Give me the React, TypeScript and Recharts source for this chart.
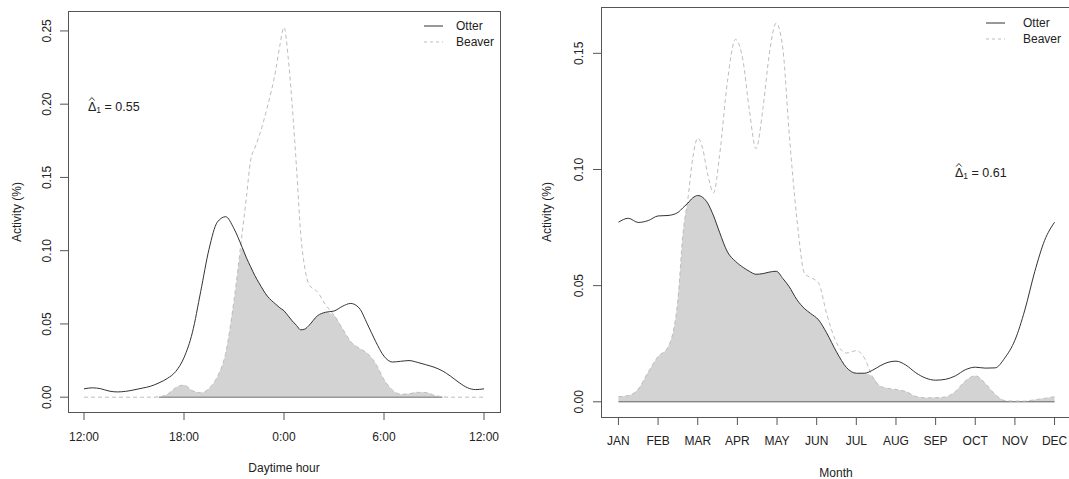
import React from "react";
import { ComposedChart, Line, Area, XAxis, YAxis, ReferenceLine } from "recharts";

// ---------- Left panel: daily activity ----------
const hours = [
  0, 0.5, 1, 1.5, 2, 2.5, 3, 3.5, 4, 4.5,
  5, 5.5, 6, 6.5, 7, 7.5, 8, 8.5, 9, 9.5,
  9.75, 10, 10.25, 10.5, 11, 11.5, 11.75, 12, 12.25, 12.5,
  12.75, 13, 13.25, 13.5, 14, 14.5, 15, 15.5, 16, 16.5,
  17, 17.5, 18, 18.5, 19, 19.5, 20, 20.5, 21, 21.5,
  22, 22.5, 23, 23.5, 24,
];
const otterDaily = [
  0.0057, 0.0064, 0.0058, 0.0042, 0.0036, 0.004, 0.005, 0.0062, 0.0075, 0.0098,
  0.0128, 0.0175, 0.027, 0.044, 0.072, 0.101, 0.1195, 0.1232, 0.115, 0.102,
  0.095, 0.089, 0.083, 0.078, 0.069, 0.0635, 0.061, 0.059, 0.0555, 0.052,
  0.049, 0.046, 0.0465, 0.049, 0.0555, 0.058, 0.0588, 0.062, 0.064, 0.061,
  0.05, 0.038, 0.028, 0.024, 0.0245, 0.025, 0.0238, 0.0222, 0.0205, 0.018,
  0.0143, 0.01, 0.0065, 0.0052, 0.0057,
];
const beaverDaily = [
  0, 0, 0, 0, 0, 0, 0, 0, 0, 0.0003,
  0.002, 0.0065, 0.0083, 0.0045, 0.003, 0.006, 0.014, 0.03, 0.066, 0.113,
  0.137, 0.162, 0.17, 0.178, 0.198, 0.223, 0.24, 0.2525, 0.232, 0.198,
  0.157, 0.112, 0.088, 0.077, 0.072, 0.063, 0.056, 0.047, 0.038, 0.0335,
  0.03, 0.023, 0.012, 0.005, 0.002, 0.0023, 0.0033, 0.0032, 0.0014, 0.0003,
  0, 0, 0, 0, 0,
];
const hourTicks = [0, 6, 12, 18, 24];
const hourTickLabels = ["12:00", "18:00", "0:00", "6:00", "12:00"];
const dailyYTicks = [0, 0.05, 0.1, 0.15, 0.2, 0.25];

// ---------- Right panel: monthly activity ----------
const months = [
  0, 0.25, 0.5, 0.75, 1, 1.25, 1.5, 1.625, 1.75, 1.875,
  2, 2.125, 2.25, 2.4, 2.55, 2.75, 2.95, 3.15, 3.3, 3.47,
  3.65, 3.8, 3.98, 4.15, 4.3, 4.5, 4.7, 4.85, 5.05, 5.25,
  5.5, 5.75, 6, 6.2, 6.4, 6.6, 6.8, 7, 7.25, 7.5,
  7.75, 8, 8.25, 8.5, 8.75, 9, 9.25, 9.5, 9.75, 10,
  10.25, 10.5, 10.75, 11,
];
const otterMonthly = [
  0.0773, 0.079, 0.0772, 0.078, 0.08, 0.0802, 0.0815, 0.0835, 0.0855, 0.0878,
  0.0888, 0.088, 0.0855, 0.08, 0.073, 0.0645, 0.0605, 0.0578, 0.0562, 0.0549,
  0.0552, 0.0558, 0.0562, 0.053, 0.0497, 0.044, 0.04, 0.038, 0.0352, 0.0297,
  0.0215, 0.0148, 0.0123, 0.0123, 0.0135, 0.0155, 0.017, 0.0175, 0.0158, 0.0125,
  0.0102, 0.0093, 0.0097, 0.0112, 0.0138, 0.0149, 0.0145, 0.0146, 0.019, 0.0265,
  0.0395, 0.056, 0.0695, 0.0773,
];
const beaverMonthly = [
  0.0022, 0.0027, 0.0055, 0.0128, 0.0195, 0.0235, 0.044, 0.072, 0.087, 0.105,
  0.1135, 0.109, 0.098, 0.09, 0.106, 0.138, 0.156, 0.146, 0.1258, 0.109,
  0.127, 0.149, 0.163, 0.1515, 0.117, 0.079, 0.055, 0.0535, 0.051, 0.038,
  0.0255, 0.021, 0.022, 0.019, 0.011, 0.0068, 0.0058, 0.0053, 0.0044, 0.0023,
  0.0017, 0.0018, 0.0021, 0.0045, 0.009, 0.0112, 0.008, 0.0032, 0.0005, 0.0003,
  0.0003, 0.0009, 0.0015, 0.0022,
];
const monthTicks = [0, 1, 2, 3, 4, 5, 6, 7, 8, 9, 10, 11];
const monthLabels = ["JAN", "FEB", "MAR", "APR", "MAY", "JUN", "JUL", "AUG", "SEP", "OCT", "NOV", "DEC"];
const monthlyYTicks = [0, 0.05, 0.1, 0.15];

const seriesNames = ["Otter", "Beaver"];
const deltaDaily = "0.55";
const deltaMonthly = "0.61";

// ---------- helpers ----------
function buildRows(xs: number[], a: number[], b: number[]) {
  const n = Math.min(xs.length, a.length, b.length);
  const rows: { x: number; otter: number; beaver: number; overlap: number }[] = [];
  for (let i = 0; i < n; i++) {
    rows.push({ x: xs[i], otter: a[i], beaver: b[i], overlap: Math.min(a[i], b[i]) });
  }
  return rows;
}
function overlapRange(rows: { x: number; overlap: number }[]) {
  const pos = rows.filter((r) => r.overlap > 0);
  return [pos[0].x, pos[pos.length - 1].x];
}

const dailyRows = buildRows(hours, otterDaily, beaverDaily);
const monthlyRows = buildRows(months, otterMonthly, beaverMonthly);
const dailyRange = overlapRange(dailyRows);
const monthlyRange = overlapRange(monthlyRows);

const FONT = '"Liberation Sans", Arial, Helvetica, sans-serif';
const TEXT = "#222";
const AXIS = "#555";
const OTTER = "#333";
const BEAVER = "#bdbdbd";
const FILL = "#d3d3d3";

const makeYTick = (offset: number) => (props: any) => {
  const { x, y, payload } = props;
  const cx = x + offset;
  return (
    <text
      x={cx}
      y={y}
      transform={`rotate(-90, ${cx}, ${y})`}
      textAnchor="middle"
      dominantBaseline="central"
      fontSize={12}
      fontFamily={FONT}
      fill={TEXT}
    >
      {Number(payload.value).toFixed(2)}
    </text>
  );
};

const makeXTick = (labels: string[], ticks: number[], offset: number) => (props: any) => {
  const { x, y, payload } = props;
  const idx = ticks.indexOf(payload.value);
  return (
    <text
      x={x}
      y={y + offset}
      textAnchor="middle"
      dominantBaseline="central"
      fontSize={12}
      fontFamily={FONT}
      fill={TEXT}
    >
      {idx >= 0 ? labels[idx] : payload.value}
    </text>
  );
};

function Legend({ lx, tx, y1, y2 }: { lx: number; tx: number; y1: number; y2: number }) {
  return (
    <g fontFamily={FONT} fontSize={12} fill={TEXT}>
      <line x1={lx} x2={lx + 19} y1={y1} y2={y1} stroke={OTTER} strokeWidth={1} />
      <text x={tx} y={y1} dominantBaseline="central">{seriesNames[0]}</text>
      <line x1={lx} x2={lx + 19} y1={y2} y2={y2} stroke={BEAVER} strokeWidth={1} strokeDasharray="3 3" />
      <text x={tx} y={y2} dominantBaseline="central">{seriesNames[1]}</text>
    </g>
  );
}

function Delta({ x, y, value }: { x: number; y: number; value: string }) {
  return (
    <g>
      <polyline
        points={`${x + 1.2},${y - 10.5} ${x + 3.9},${y - 13.5} ${x + 6.6},${y - 10.5}`}
        fill="none"
        stroke={TEXT}
        strokeWidth={0.9}
      />
      <text x={x} y={y} fontSize={12.5} fontFamily={FONT} fill={TEXT}>
        Δ<tspan fontSize={8.5} dy={2}>1</tspan>
        <tspan dy={-2}>{` = ${value}`}</tspan>
      </text>
    </g>
  );
}

export default function App() {
  return (
    <div
      style={{
        position: "fixed",
        left: 0,
        top: 0,
        width: 1069,
        height: 479,
        overflow: "hidden",
        background: "#fff",
        fontFamily: FONT,
      }}
    >
      {/* Left panel */}
      <div style={{ position: "absolute", left: 0, top: 0 }}>
        <ComposedChart
          width={540}
          height={479}
          data={dailyRows}
          margin={{ top: 11, right: 40, bottom: 37, left: 0 }}
        >
          <XAxis
            type="number"
            dataKey="x"
            domain={[-0.96, 24.96]}
            allowDataOverflow
            ticks={hourTicks}
            interval={0}
            axisLine={false}
            tickLine={{ stroke: AXIS }}
            tickSize={8}
            height={30}
            tick={makeXTick(hourTickLabels, hourTicks, 15)}
          />
          <YAxis
            type="number"
            domain={[-0.0101, 0.2636]}
            allowDataOverflow
            ticks={dailyYTicks}
            interval={0}
            axisLine={false}
            tickLine={{ stroke: AXIS }}
            tickSize={8}
            width={68}
            tick={makeYTick(-11)}
          />
          <Area
            type="monotone"
            dataKey="overlap"
            stroke="none"
            fill={FILL}
            fillOpacity={1}
            baseValue={0}
            isAnimationActive={false}
            dot={false}
            activeDot={false}
          />
          <ReferenceLine
            segment={[
              { x: dailyRange[0], y: 0 },
              { x: dailyRange[1], y: 0 },
            ]}
            stroke="#707070"
            strokeWidth={1}
          />
          <Line
            type="monotone"
            dataKey="beaver"
            stroke={BEAVER}
            strokeWidth={1}
            strokeDasharray="4 3"
            dot={false}
            activeDot={false}
            isAnimationActive={false}
          />
          <Line
            type="monotone"
            dataKey="otter"
            stroke={OTTER}
            strokeWidth={1}
            dot={false}
            activeDot={false}
            isAnimationActive={false}
          />
        </ComposedChart>
      </div>

      {/* Right panel */}
      <div style={{ position: "absolute", left: 540, top: 0 }}>
        <ComposedChart
          width={560}
          height={479}
          data={monthlyRows}
          margin={{ top: 7, right: 28, bottom: 32, left: 0 }}
        >
          <XAxis
            type="number"
            dataKey="x"
            domain={[-0.44, 11.44]}
            allowDataOverflow
            ticks={monthTicks}
            interval={0}
            axisLine={false}
            tickLine={{ stroke: AXIS }}
            tickSize={8}
            height={30}
            tick={makeXTick(monthLabels, monthTicks, 14)}
          />
          <YAxis
            type="number"
            domain={[-0.00654, 0.16994]}
            allowDataOverflow
            ticks={monthlyYTicks}
            interval={0}
            axisLine={false}
            tickLine={{ stroke: AXIS }}
            tickSize={8}
            width={61}
            tick={makeYTick(-12)}
          />
          <Area
            type="monotone"
            dataKey="overlap"
            stroke="none"
            fill={FILL}
            fillOpacity={1}
            baseValue={0}
            isAnimationActive={false}
            dot={false}
            activeDot={false}
          />
          <ReferenceLine
            segment={[
              { x: monthlyRange[0], y: 0 },
              { x: monthlyRange[1], y: 0 },
            ]}
            stroke="#606060"
            strokeWidth={1}
          />
          <Line
            type="monotone"
            dataKey="beaver"
            stroke={BEAVER}
            strokeWidth={1}
            strokeDasharray="4 3"
            dot={false}
            activeDot={false}
            isAnimationActive={false}
          />
          <Line
            type="monotone"
            dataKey="otter"
            stroke={OTTER}
            strokeWidth={1}
            dot={false}
            activeDot={false}
            isAnimationActive={false}
          />
        </ComposedChart>
      </div>

      {/* Frames, titles, legends, annotations */}
      <svg
        width={1069}
        height={479}
        style={{ position: "absolute", left: 0, top: 0, pointerEvents: "none" }}
      >
        <rect x={68.5} y={11.5} width={432} height={401} fill="none" stroke={AXIS} strokeWidth={1} />
        <rect x={601.5} y={7.5} width={471} height={410} fill="none" stroke={AXIS} strokeWidth={1} />

        <g fontFamily={FONT} fontSize={12} fill={TEXT}>
          <text x={17} y={212} transform="rotate(-90, 17, 212)" textAnchor="middle" dominantBaseline="central">
            Activity (%)
          </text>
          <text x={284} y={468} textAnchor="middle" dominantBaseline="central">
            Daytime hour
          </text>
          <text x={547} y={212} transform="rotate(-90, 547, 212)" textAnchor="middle" dominantBaseline="central">
            Activity (%)
          </text>
          <text x={836} y={473} textAnchor="middle" dominantBaseline="central">
            Month
          </text>
        </g>

        <Legend lx={424} tx={456} y1={26} y2={42} />
        <Legend lx={986} tx={1023} y1={23} y2={39} />

        <Delta x={88} y={111} value={deltaDaily} />
        <Delta x={955} y={177} value={deltaMonthly} />
      </svg>
    </div>
  );
}
